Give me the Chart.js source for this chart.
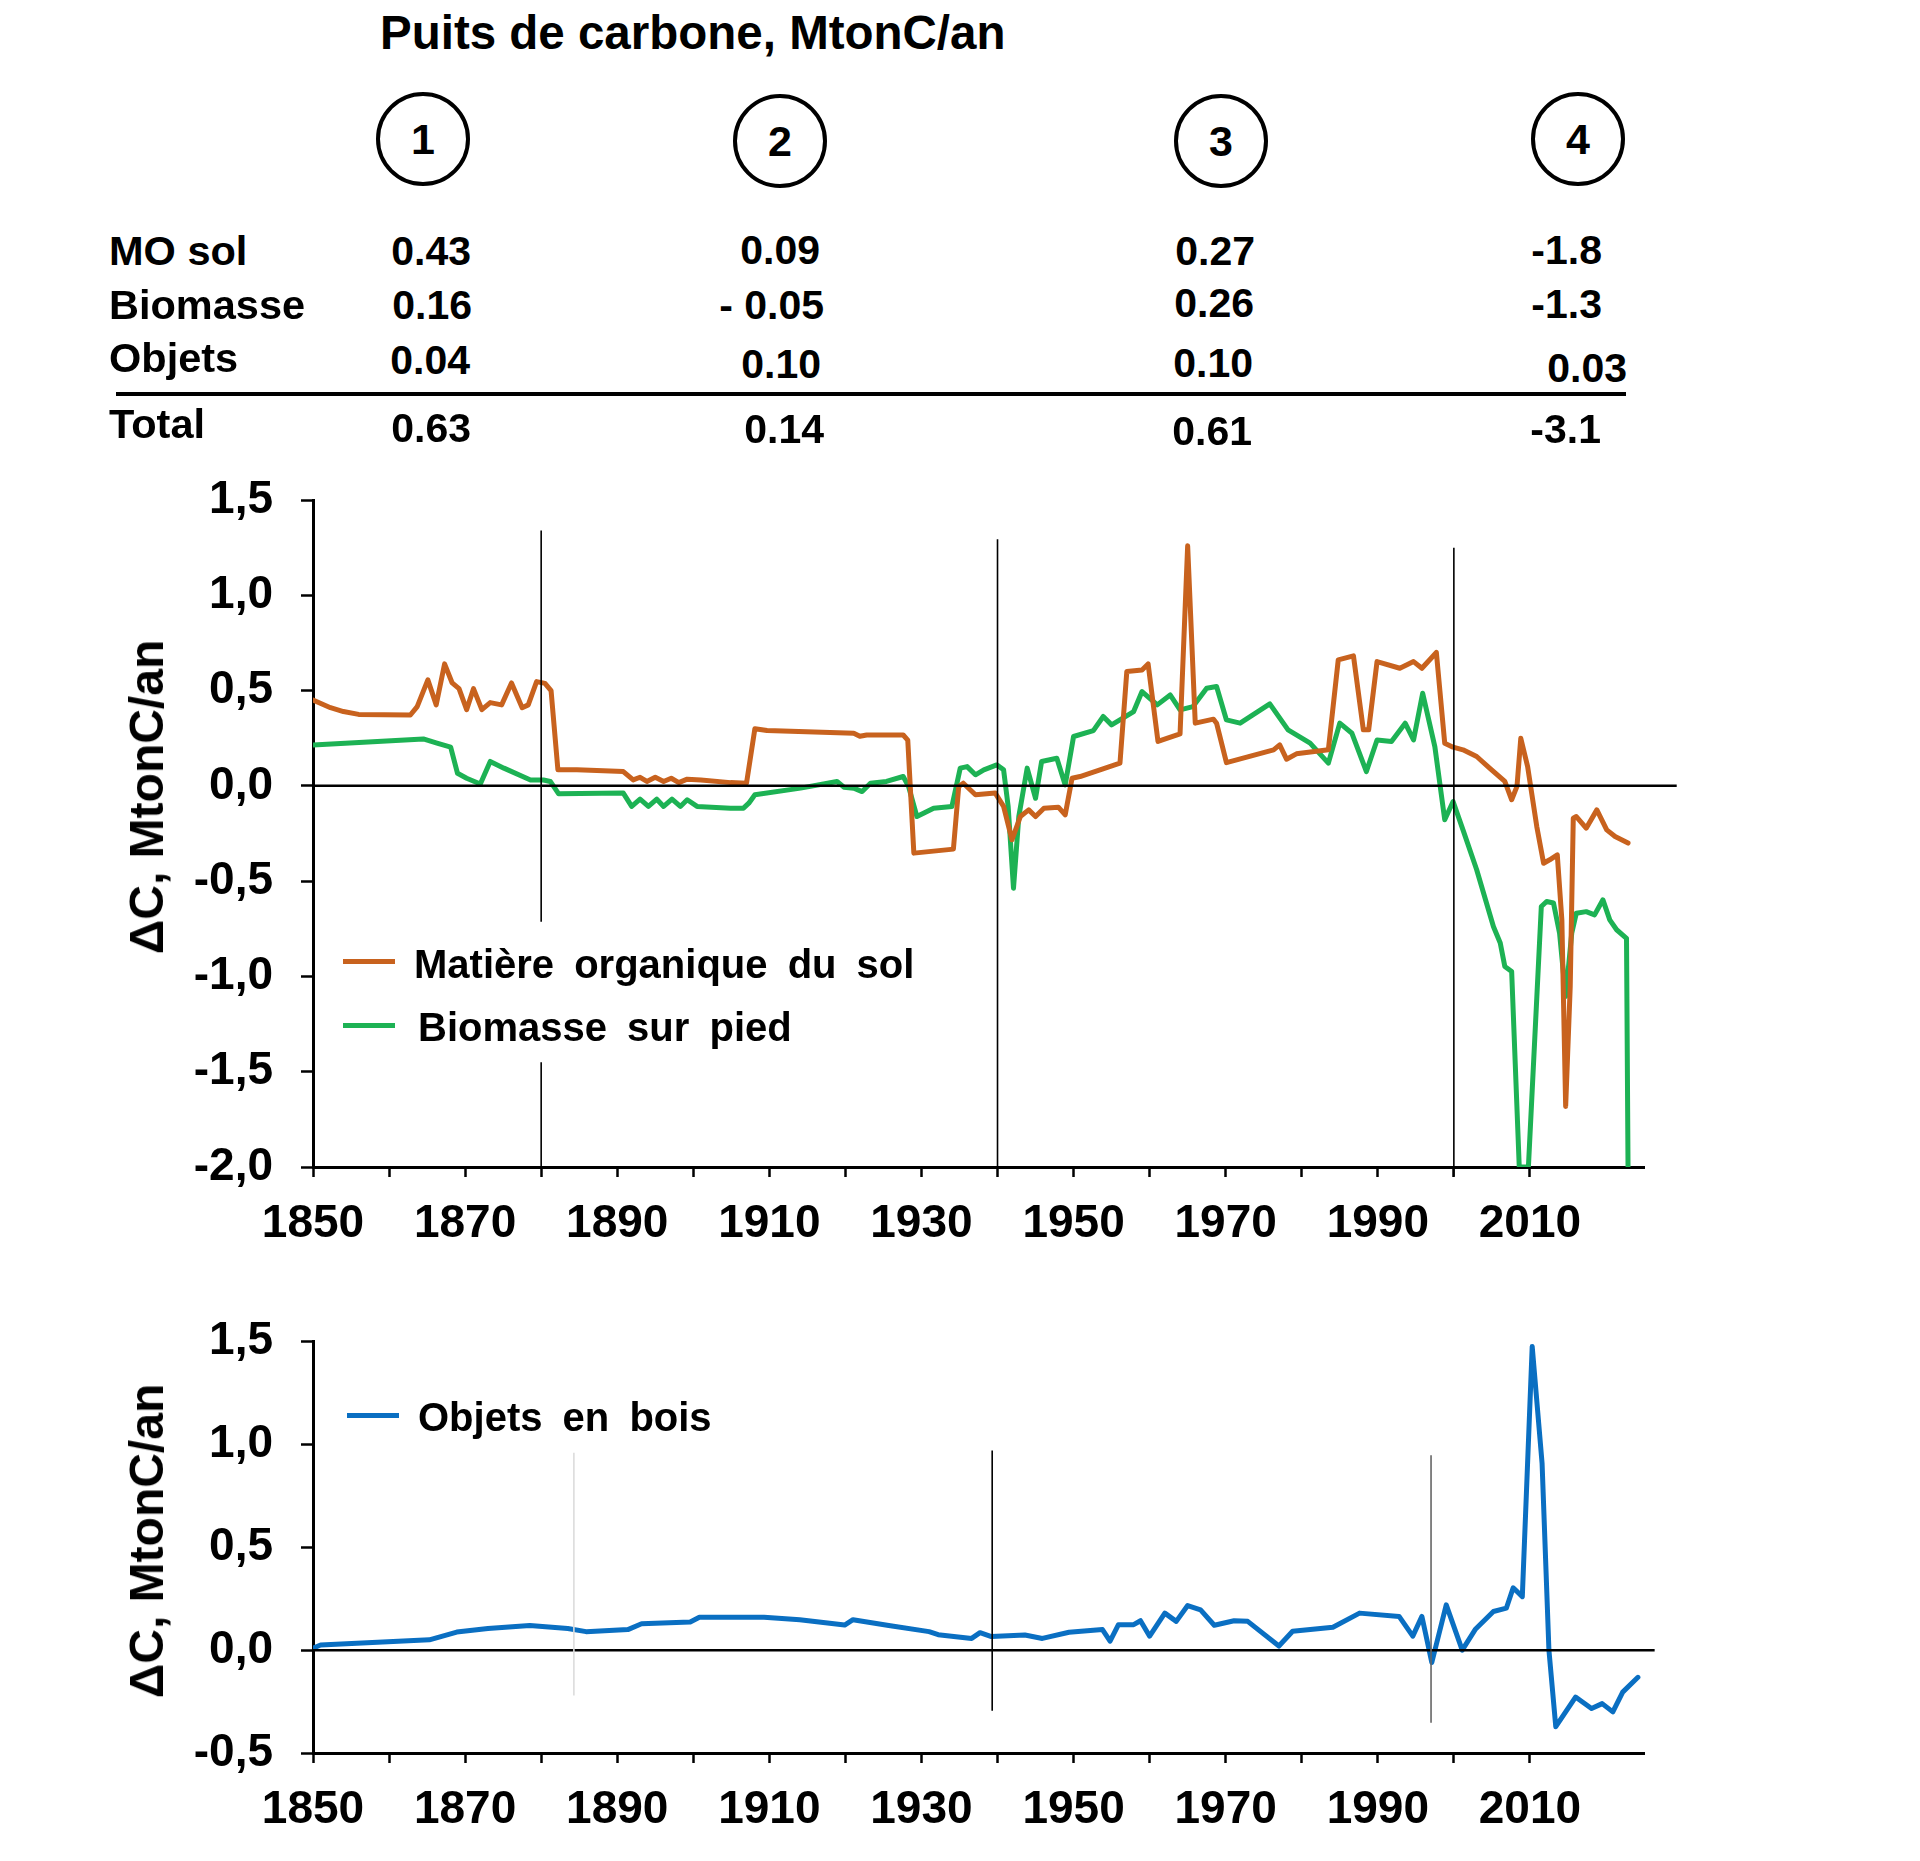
<!DOCTYPE html>
<html><head><meta charset="utf-8">
<script src="https://cdn.jsdelivr.net/npm/chart.js@4.4.0/dist/chart.umd.min.js"></script>
<style>
html,body{margin:0;padding:0;background:#fff}
body{width:1920px;height:1861px;position:relative;overflow:hidden;font-family:"Liberation Sans",Arial,sans-serif;font-weight:bold;color:#000}
.t{position:absolute;line-height:1;white-space:pre;z-index:5}
canvas{position:absolute;left:0}
.circ{position:absolute;border:4.5px solid #000;border-radius:50%;box-sizing:border-box;display:flex;align-items:center;justify-content:center;font-size:43px;line-height:1;z-index:5}
.leg{position:absolute;height:5px;z-index:5}
.rot{position:absolute;line-height:1;white-space:pre;transform:translate(-50%,-50%) rotate(-90deg);z-index:5}
</style></head><body>
<canvas id="c1" width="1720" height="827" style="top:440px"></canvas>
<canvas id="c2" width="1720" height="567" style="top:1286px"></canvas>
<script>
// ---------- DATA ----------
const tableTitle = "Puits de carbone, MtonC/an";
const periodLabels = ["1", "2", "3", "4"];
const rowLabels = ["MO sol", "Biomasse", "Objets", "Total"];
const moSolSinks = ["0.43", "0.09", "0.27", "-1.8"];
const biomassSinks = ["0.16", "- 0.05", "0.26", "-1.3"];
const objectSinks = ["0.04", "0.10", "0.10", "0.03"];
const totalSinks = ["0.63", "0.14", "0.61", "-3.1"];

const yTitle = "ΔC, MtonC/an";
const moLabel = "Matière organique du sol";
const bioLabel = "Biomasse sur pied";
const objLabel = "Objets en bois";

const moYears = [1850,1852.3,1854,1856,1862.8,1863.7,1865.1,1866.2,1867.3,1868.3,1869.2,1870.2,1871.1,1872.2,1873.3,1874.8,1876.1,1877.5,1878.3,1879.4,1880.5,1881.3,1882.2,1884.7,1890.8,1892.1,1893,1893.9,1895,1896.1,1897.1,1898.1,1899.2,1901,1904.9,1907,1908.1,1909.7,1921.1,1921.9,1922.8,1927.6,1928.2,1929,1934.2,1934.9,1935.5,1937.1,1939.7,1940.8,1941.9,1943,1944.1,1945,1946.1,1948,1948.9,1949.8,1950.85,1956.1,1957,1959,1959.8,1961.1,1964,1965,1966,1968.4,1968.8,1970.1,1976.3,1977.1,1978,1979.3,1983.5,1984.8,1986.8,1988.1,1988.8,1989.9,1992.9,1994.7,1995.8,1997.7,1998.8,1999.9,2001.2,2003,2004.7,2006.7,2007.6,2008.3,2008.8,2009.7,2010.9,2011.8,2012.6,2013.6,2014.2,2014.7,2015.3,2015.7,2016.1,2017.4,2018.8,2020.1,2021.2,2022.9];
const moValues = [0.45,0.41,0.39,0.375,0.372,0.416,0.556,0.425,0.64,0.54,0.51,0.40,0.51,0.40,0.437,0.425,0.54,0.41,0.425,0.547,0.538,0.50,0.084,0.084,0.075,0.031,0.045,0.023,0.045,0.023,0.04,0.017,0.035,0.031,0.017,0.014,0.30,0.29,0.276,0.26,0.267,0.267,0.24,-0.353,-0.332,-0.003,0.014,-0.047,-0.038,-0.108,-0.283,-0.161,-0.126,-0.161,-0.117,-0.112,-0.152,0.04,0.049,0.119,0.60,0.608,0.64,0.233,0.273,1.26,0.329,0.35,0.329,0.122,0.189,0.215,0.14,0.168,0.189,0.661,0.682,0.294,0.294,0.652,0.617,0.652,0.617,0.70,0.224,0.203,0.189,0.154,0.093,0.023,-0.073,-0.003,0.25,0.101,-0.213,-0.406,-0.388,-0.362,-0.703,-1.682,-1.052,-0.17,-0.161,-0.222,-0.126,-0.231,-0.266,-0.30];

const bioYears = [1850,1864.5,1866.3,1868.1,1869,1870.2,1872,1873.3,1875.1,1878.6,1880.3,1881.2,1882.3,1890.8,1891.9,1893,1894.1,1895.2,1896.1,1897.2,1898.3,1899.2,1900.5,1904.9,1906.6,1907.3,1908.1,1914.1,1918.9,1919.8,1921.1,1922.2,1923.3,1925.4,1927.6,1928.3,1929.4,1931.6,1934,1935.1,1936,1937.1,1938.2,1939.9,1940.8,1941.4,1942.1,1942.8,1943.9,1945,1945.8,1947.8,1948.9,1950,1952.6,1953.9,1955,1957.9,1959,1961,1962.7,1964,1965.7,1967.5,1968.8,1970.1,1971.9,1975.8,1978.2,1981.1,1983.5,1985,1986.6,1988.5,1989.9,1991.8,1993.6,1994.7,1995.9,1997.5,1998.8,1999.9,2001.2,2003,2005.2,2006.1,2006.7,2007.6,2008.6,2009.8,2011.5,2012.2,2013.1,2013.9,2014.7,2015.5,2016.1,2017.4,2018.5,2019.6,2020.5,2021.4,2022.7,2022.9];
const bioValues = [0.215,0.246,0.224,0.203,0.066,0.040,0.01,0.128,0.093,0.031,0.031,0.023,-0.042,-0.038,-0.108,-0.07,-0.108,-0.07,-0.108,-0.07,-0.108,-0.073,-0.108,-0.117,-0.117,-0.091,-0.047,-0.012,0.023,-0.007,-0.012,-0.03,0.014,0.023,0.049,-0.003,-0.161,-0.117,-0.108,0.093,0.101,0.058,0.084,0.11,0.084,-0.108,-0.537,-0.161,0.093,-0.065,0.128,0.145,0.005,0.259,0.29,0.364,0.32,0.39,0.495,0.425,0.477,0.399,0.416,0.512,0.521,0.346,0.329,0.43,0.294,0.224,0.119,0.329,0.276,0.075,0.241,0.233,0.329,0.241,0.486,0.206,-0.178,-0.082,-0.231,-0.44,-0.738,-0.825,-0.948,-0.974,-2.0,-2.0,-0.633,-0.607,-0.615,-0.773,-1.105,-0.773,-0.668,-0.66,-0.677,-0.598,-0.703,-0.755,-0.80,-2.0];

const objYears = [1850,1851,1865.3,1868.9,1873,1878.5,1883.5,1885.9,1891.4,1893.2,1899.6,1900.8,1909.3,1914,1919.9,1921,1925.7,1931,1932.2,1936.6,1937.7,1939.2,1943.6,1945.9,1949.4,1953.8,1954.8,1955.9,1957.9,1958.8,1960,1962,1963.5,1965,1966.7,1968.5,1971.1,1972.9,1977,1978.8,1984.1,1987.6,1992.8,1994.6,1995.8,1997.1,1999,2001.1,2002.8,2005.2,2006.9,2007.8,2009,2010.3,2011.6,2012.5,2013.4,2016,2018.1,2019.5,2020.9,2022.2,2024.2];
const objValues = [0.01,0.025,0.05,0.088,0.105,0.12,0.105,0.09,0.10,0.128,0.137,0.16,0.16,0.148,0.122,0.148,0.12,0.09,0.075,0.057,0.085,0.066,0.074,0.057,0.087,0.10,0.044,0.124,0.124,0.143,0.068,0.18,0.14,0.217,0.196,0.121,0.143,0.14,0.02,0.092,0.111,0.18,0.164,0.068,0.164,-0.06,0.22,0.0,0.10,0.188,0.204,0.303,0.26,1.476,0.908,0.0,-0.372,-0.228,-0.284,-0.26,-0.30,-0.204,-0.132];

const xTickLabels = [1850,1870,1890,1910,1930,1950,1970,1990,2010];

// reference lines in data units: [x1, y1, x2, y2, colour, width]
const topRefLines = [
  [1850,0,2029.3,0,'#000',2.5],
  [1880,1.34,1880,-0.713,'#000',1.6],
  [1880,-1.45,1880,-2.0,'#000',1.6],
  [1940,1.294,1940,-2.0,'#000',1.6],
  [2000,1.25,2000,-2.05,'#000',1.6]
];
const bottomRefLines = [
  [1850,0,2026.4,0,'#000',2.5],
  [1884.3,0.96,1884.3,-0.22,'#dcdcdc',1.6],
  [1939.3,0.97,1939.3,-0.295,'#000',1.6],
  [1997,0.948,1997,-0.353,'#666',1.6]
];

// ---------- HTML TEXT ----------
function addText(txt, left, cy, size, cls, extra) {
  const d = document.createElement('div');
  d.className = cls || 't';
  d.textContent = txt;
  d.style.fontSize = size + 'px';
  d.style.top = (cy - size / 2) + 'px';
  if (left !== null) d.style.left = left + 'px';
  if (extra) Object.assign(d.style, extra);
  document.body.appendChild(d);
  return d;
}
addText(tableTitle, 380, 33, 47.5);
const circlePos = [[423,139],[780,141],[1221,141],[1578,139]];
periodLabels.forEach((p, i) => {
  const d = document.createElement('div');
  d.className = 'circ';
  d.textContent = p;
  const r = 47;
  Object.assign(d.style, {left:(circlePos[i][0]-r)+'px', top:(circlePos[i][1]-r)+'px', width:(2*r)+'px', height:(2*r)+'px'});
  document.body.appendChild(d);
});
const rowLabelY = [251, 305, 358, 424];
rowLabels.forEach((l, i) => addText(l, 109, rowLabelY[i], 41.5));
const tableCells = [moSolSinks, biomassSinks, objectSinks, totalSinks];
const cellRight = [[471,820,1255,1602],[472,824,1254,1602],[470,821,1253,1627],[471,824,1252,1601]];
const cellY = [[251,250,251,250],[305,305,303,304],[360,364,363,368],[428,429,431,429]];
tableCells.forEach((row, r) => row.forEach((v, c) => {
  addText(v, null, cellY[r][c], 41, 't', {right:(1920 - cellRight[r][c]) + 'px'});
}));
const rule = document.createElement('div');
Object.assign(rule.style, {position:'absolute', left:'116px', width:'1510px', top:'391.5px', height:'4px', background:'#000'});
document.body.appendChild(rule);

addText(yTitle, null, 0, 48, 'rot', {left:'147px', top:'797px'});
addText(yTitle, null, 0, 48, 'rot', {left:'147px', top:'1541px'});

const COL_MO = '#C8621E', COL_BIO = '#1DB254', COL_OBJ = '#0A6FC2';
function addLegend(color, x, y, label, tx, ty) {
  const l = document.createElement('div');
  l.className = 'leg';
  Object.assign(l.style, {left:x+'px', width:'52px', top:(y-2.5)+'px', background:color});
  document.body.appendChild(l);
  addText(label, tx, ty, 40, 't', {wordSpacing:'9px'});
}
addLegend(COL_MO, 343, 961, moLabel, 414, 964);
addLegend(COL_BIO, 343, 1025, bioLabel, 418, 1027);
addLegend(COL_OBJ, 347, 1415, objLabel, 418, 1417);

// ---------- CHARTS ----------
const toPts = (xs, ys) => xs.map((x, i) => ({x: x, y: ys[i]}));
const refPlugin = {
  id: 'refLines',
  afterDatasetsDraw(chart, args, opts) {
    const ctx = chart.ctx, xs = chart.scales.x, ys = chart.scales.y;
    ctx.save();
    (opts.lines || []).forEach(l => {
      ctx.beginPath();
      ctx.strokeStyle = l[4];
      ctx.lineWidth = l[5];
      ctx.moveTo(xs.getPixelForValue(l[0]), ys.getPixelForValue(l[1]));
      ctx.lineTo(xs.getPixelForValue(l[2]), ys.getPixelForValue(l[3]));
      ctx.stroke();
    });
    ctx.restore();
  }
};
const FONT = {family:'"Liberation Sans", Arial, sans-serif', size:46, weight:'bold'};
function makeChart(id, datasets, yMin, yMax, padTop, lines) {
  return new Chart(document.getElementById(id), {
    type: 'line',
    data: {datasets: datasets.map(d => ({
      label: d.label, data: d.data, borderColor: d.color, borderWidth: 5,
      pointRadius: 0, tension: 0, borderJoinStyle: 'round', borderCapStyle: 'round', fill: false
    }))},
    options: {
      responsive: false, animation: false, devicePixelRatio: 1,
      layout: {padding: {top: padTop, right: 76, left: 0, bottom: 0}},
      plugins: {legend: {display: false}, tooltip: {enabled: false}, refLines: {lines: lines}},
      scales: {
        x: {
          type: 'linear', min: 1850, max: 2025,
          afterFit(s) { s.height = 100; },
          afterBuildTicks(s) { s.ticks = s.ticks.filter(t => t.value % 10 === 0); },
          ticks: {stepSize: 10, autoSkip: false, maxRotation: 0, color: '#000', font: FONT, padding: 20,
            callback: v => xTickLabels.includes(v) ? String(v) : ''},
          grid: {drawOnChartArea: false, drawTicks: true, tickLength: 10, tickWidth: 2.5, tickColor: '#000', color: '#000'},
          border: {display: true, color: '#000', width: 3}
        },
        y: {
          min: yMin, max: yMax,
          afterFit(s) { s.width = 313; },
          ticks: {stepSize: 0.5, color: '#000', font: FONT, padding: 28,
            callback: v => v.toFixed(1).replace('.', ',')},
          grid: {drawOnChartArea: false, drawTicks: true, tickLength: 12, tickWidth: 2.5, tickColor: '#000', color: '#000'},
          border: {display: true, color: '#000', width: 3}
        }
      }
    },
    plugins: [refPlugin]
  });
}
makeChart('c1', [
  {label: moLabel, data: toPts(moYears, moValues), color: COL_MO},
  {label: bioLabel, data: toPts(bioYears, bioValues), color: COL_BIO}
], -2.0, 1.5, 60, topRefLines);
makeChart('c2', [
  {label: objLabel, data: toPts(objYears, objValues), color: COL_OBJ}
], -0.5, 1.5, 50, bottomRefLines);
</script>
</body></html>
